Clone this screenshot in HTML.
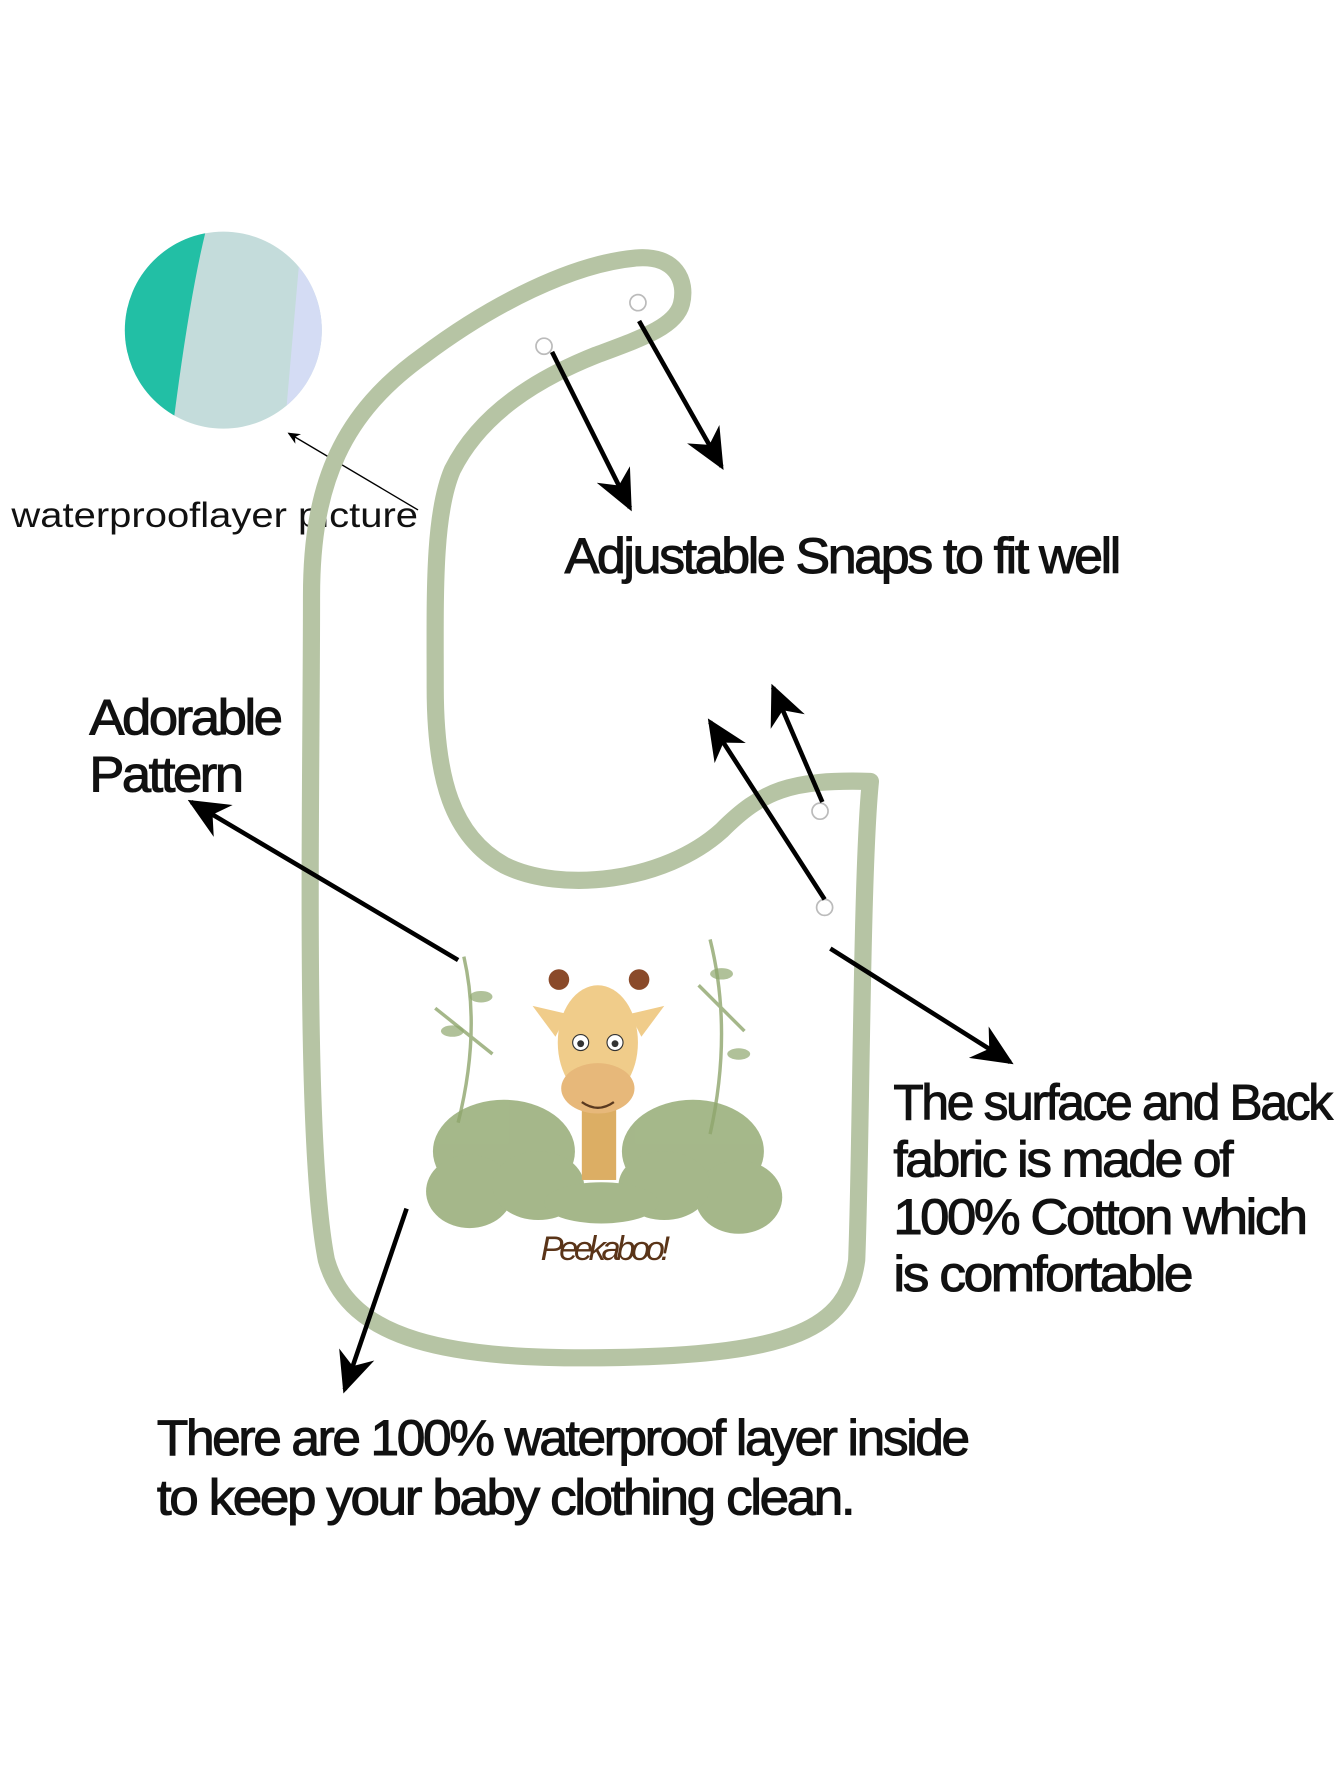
<!DOCTYPE html>
<html><head><meta charset="utf-8"><style>
html,body{margin:0;padding:0;background:#fff;}
svg{display:block;}
text{font-family:"Liberation Sans",sans-serif;fill:#111;}
</style></head><body>
<svg width="1340" height="1785" viewBox="0 0 1170 1558" xmlns="http://www.w3.org/2000/svg">
<defs>
<marker id="ah" viewBox="0 0 20 20" refX="18" refY="10" markerWidth="9" markerHeight="9" markerUnits="strokeWidth" orient="auto">
<path d="M0,1 L20,10 L0,19 L6,10 Z" fill="#000"/>
</marker>
<clipPath id="cc"><circle cx="195" cy="288" r="86"/></clipPath>
</defs>
<rect width="1170" height="1558" fill="#fff"/>

<!-- waterproof circle -->
<g clip-path="url(#cc)">
<rect x="100" y="200" width="200" height="180" fill="#c4dcdb"/>
<path d="M100,200 L180,200 Q165,260 150,380 L100,380 Z" fill="#22bfa5"/>
<path d="M262,220 Q255,300 248,380 L300,380 L300,220 Z" fill="#d4dcf4"/>
</g>
<line x1="365" y1="445" x2="252" y2="378" stroke="#000" stroke-width="1.2" marker-end="url(#ah)"/>
<text x="10" y="460" font-size="31" textLength="355" lengthAdjust="spacingAndGlyphs">waterprooflayer picture</text>

<!-- bib outline -->
<path d="M285,1100 C265,1000 272,700 272,520 C272,420 300,360 370,310 C430,265 500,230 555,225 C590,222 600,245 595,265 C590,285 560,295 520,310 C470,330 420,360 395,410 C378,450 380,520 380,600 C380,680 395,730 440,755 C490,780 580,770 630,725 C665,690 690,680 760,682 C752,760 752,1000 748,1100 C740,1160 690,1182 540,1185 C390,1188 305,1170 285,1100 Z"
 fill="none" stroke="#b6c4a4" stroke-width="15" stroke-linejoin="round"/>

<!-- snaps -->
<g fill="#fff" stroke="#bbb" stroke-width="1.5">
<circle cx="475" cy="302" r="7"/><circle cx="557" cy="264" r="7"/>
<circle cx="716" cy="708" r="7"/><circle cx="720" cy="792" r="7"/>
</g>

<!-- artwork -->
<g>
<g fill="#8fa66d" opacity="0.8">
<ellipse cx="440" cy="1005" rx="62" ry="45"/><ellipse cx="605" cy="1005" rx="62" ry="45"/>
<ellipse cx="410" cy="1040" rx="38" ry="32"/><ellipse cx="645" cy="1045" rx="38" ry="32"/>
<ellipse cx="470" cy="1035" rx="40" ry="30"/><ellipse cx="580" cy="1035" rx="40" ry="30"/>
<ellipse cx="525" cy="1050" rx="50" ry="18"/>
</g>
<g stroke="#8fa66d" stroke-width="3" fill="none" opacity="0.8">
<path d="M405,835 Q420,900 400,980"/><path d="M620,820 Q640,900 620,990"/>
<path d="M380,880 L430,920"/><path d="M610,860 L650,900"/>
</g>
<g fill="#8fa66d" opacity="0.7">
<ellipse cx="395" cy="900" rx="10" ry="5"/><ellipse cx="420" cy="870" rx="10" ry="5"/>
<ellipse cx="630" cy="850" rx="10" ry="5"/><ellipse cx="645" cy="920" rx="10" ry="5"/>
</g>
<rect x="508" y="950" width="30" height="80" fill="#dcae64"/>
<ellipse cx="522" cy="910" rx="35" ry="50" fill="#f0cc8a"/>
<ellipse cx="522" cy="950" rx="32" ry="22" fill="#e7b87a"/>
<path d="M465,878 L495,885 L485,905 Z" fill="#f0cc8a"/><path d="M580,878 L550,885 L560,905 Z" fill="#f0cc8a"/>
<circle cx="488" cy="855" r="9" fill="#8a4a2a"/><circle cx="558" cy="855" r="9" fill="#8a4a2a"/>
<circle cx="507" cy="910" r="7" fill="#fff" stroke="#333"/><circle cx="537" cy="910" r="7" fill="#fff" stroke="#333"/>
<circle cx="507" cy="911" r="3" fill="#333"/><circle cx="537" cy="911" r="3" fill="#333"/>
<path d="M508,962 Q522,972 536,962" stroke="#5a3a20" stroke-width="2" fill="none"/>
<text x="472" y="1100" font-family="Liberation Serif,serif" font-style="italic" font-size="30" style="fill:#5a3418" textLength="113">Peekaboo!</text>
</g>

<!-- arrows -->
<g stroke="#000" stroke-width="4" fill="none">
<line x1="482" y1="307" x2="550" y2="443" marker-end="url(#ah)"/>
<line x1="558" y1="280" x2="630" y2="407" marker-end="url(#ah)"/>
<line x1="720" y1="785" x2="620" y2="630" marker-end="url(#ah)"/>
<line x1="718" y1="700" x2="675" y2="600" marker-end="url(#ah)"/>
<line x1="400" y1="838" x2="167" y2="700" marker-end="url(#ah)"/>
<line x1="725" y1="828" x2="882" y2="927" marker-end="url(#ah)"/>
<line x1="355" y1="1055" x2="301" y2="1213" marker-end="url(#ah)"/>
</g>

<!-- labels -->
<g font-size="44" letter-spacing="-2" stroke="#111" stroke-width="0.9">
<text x="493" y="500" textLength="484" lengthAdjust="spacingAndGlyphs">Adjustable Snaps to fit well</text>
<text x="78" y="641" textLength="167" lengthAdjust="spacingAndGlyphs">Adorable</text>
<text x="78" y="691" textLength="133" lengthAdjust="spacingAndGlyphs">Pattern</text>
<text x="780" y="977" textLength="382" lengthAdjust="spacingAndGlyphs">The surface and Back</text>
<text x="780" y="1027" textLength="295" lengthAdjust="spacingAndGlyphs">fabric is made of</text>
<text x="780" y="1077" textLength="360" lengthAdjust="spacingAndGlyphs">100% Cotton which</text>
<text x="780" y="1127" textLength="260" lengthAdjust="spacingAndGlyphs">is comfortable</text>
<text x="137" y="1270" textLength="708" lengthAdjust="spacingAndGlyphs">There are 100% waterproof layer inside</text>
<text x="137" y="1322" textLength="608" lengthAdjust="spacingAndGlyphs">to keep your baby clothing  clean.</text>
</g>
</svg>
</body></html>
